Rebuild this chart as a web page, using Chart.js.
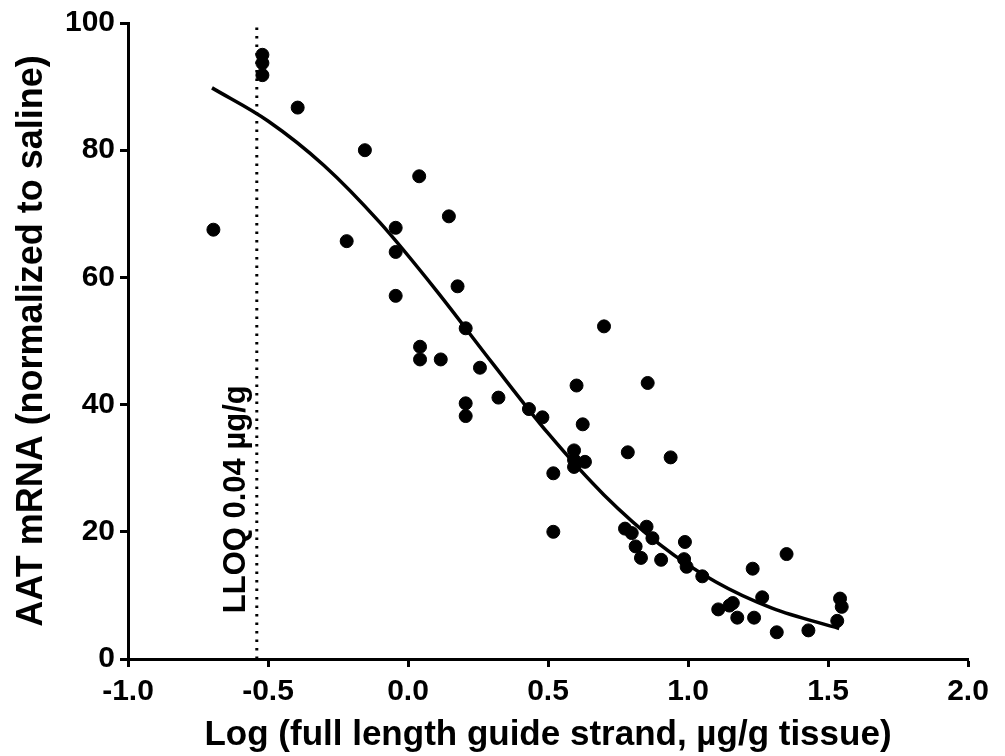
<!DOCTYPE html>
<html>
<head>
<meta charset="utf-8">
<script src="https://cdn.jsdelivr.net/npm/chart.js@4"></script>
<style>
  html, body { margin: 0; padding: 0; background: #fff; }
  #wrap { width: 1005px; height: 756px; }
</style>
</head>
<body>
<div id="wrap"><canvas id="chart" width="1005" height="756"></canvas></div>
<script>
// measured points: log dose (x) vs AAT mRNA % of saline (y)
const doseX = [
  -0.695, -0.520, -0.520, -0.520, -0.394, -0.154, -0.219, 0.040, -0.044, -0.044,
  -0.044, 0.146, 0.177, 0.206, 0.043, 0.043, 0.117, 0.257, 0.206, 0.206,
  0.323, 0.432, 0.480, 0.519, 0.519, 0.700, 0.602, 0.624, 0.593, 0.593,
  0.593, 0.632, 0.856, 0.785, 0.938, 0.775, 0.799, 0.852, 0.873, 0.813,
  0.832, 0.904, 0.989, 0.986, 0.995, 1.051, 1.108, 1.148, 1.160, 1.176,
  1.236, 1.231, 1.265, 1.317, 1.352, 1.430, 1.543, 1.549, 1.533
];
const mrnaY = [
  67.5, 95.0, 93.7, 91.8, 86.7, 80.0, 65.7, 75.9, 67.8, 64.0,
  57.1, 69.6, 58.6, 52.0, 49.1, 47.1, 47.1, 45.8, 40.2, 38.2,
  41.1, 39.3, 38.0, 29.2, 20.0, 52.3, 43.0, 36.9, 32.8, 31.3,
  30.2, 31.0, 43.4, 32.5, 31.7, 20.5, 19.8, 20.8, 19.0, 17.7,
  15.9, 15.6, 18.4, 15.7, 14.5, 13.0, 7.8, 8.4, 8.8, 6.5,
  6.5, 14.2, 9.7, 4.2, 16.5, 4.5, 9.5, 8.2, 6.0
];

// fitted curve
const fitX = [-0.70, -0.50, -0.30, -0.10, 0.10, 0.30, 0.50, 0.70, 0.90, 1.10, 1.30, 1.54];
const fitY = [89.8, 84.6, 77.6, 68.6, 58.0, 46.6, 35.5, 25.8, 18.0, 12.1, 8.0, 4.8];

// LLOQ marker
const lloqX = -0.54;
const lloqLabel = 'LLOQ 0.04 µg/g';

const xTicks = [-1.0, -0.5, 0.0, 0.5, 1.0, 1.5, 2.0];
const yTicks = [0, 20, 40, 60, 80, 100];

const FONT = '"Liberation Sans", Arial, Helvetica, sans-serif';

const points = doseX.map((x, i) => ({ x: x, y: mrnaY[i] }));
const curve = fitX.map((x, i) => ({ x: x, y: fitY[i] }));

const lloqText = {
  id: 'lloqText',
  afterDatasetsDraw(chart) {
    const ctx = chart.ctx;
    const px = chart.scales.x.getPixelForValue(lloqX);
    const py = chart.scales.y.getPixelForValue(7.2);
    ctx.save();
    ctx.translate(px - 12, py);
    ctx.rotate(-Math.PI / 2);
    ctx.font = 'bold 31px ' + FONT;
    ctx.fillStyle = '#000';
    ctx.textAlign = 'left';
    ctx.textBaseline = 'alphabetic';
    ctx.fillText(lloqLabel, 0, 0);
    ctx.restore();
  }
};

new Chart(document.getElementById('chart'), {
  type: 'scatter',
  data: {
    datasets: [
      {
        label: 'data',
        data: points,
        backgroundColor: '#000',
        borderColor: '#000',
        pointRadius: 6.5,
        pointHoverRadius: 6.5,
        order: 1
      },
      {
        label: 'fit',
        type: 'line',
        data: curve,
        borderColor: '#000',
        borderWidth: 3.5,
        pointRadius: 0,
        fill: false,
        cubicInterpolationMode: 'monotone',
        order: 2
      },
      {
        label: 'LLOQ',
        type: 'line',
        data: [{ x: lloqX, y: 0 }, { x: lloqX, y: 100 }],
        borderColor: '#000',
        borderWidth: 3,
        borderDash: [2.5, 6],
        borderCapStyle: 'butt',
        pointRadius: 0,
        fill: false,
        order: 3
      }
    ]
  },
  options: {
    responsive: false,
    animation: false,
    events: [],
    layout: { padding: { left: 0, right: 37, top: 19, bottom: 0 } },
    plugins: {
      legend: { display: false },
      tooltip: { enabled: false }
    },
    scales: {
      x: {
        type: 'linear',
        min: -1,
        max: 2,
        afterBuildTicks: (scale) => { scale.ticks = xTicks.map(v => ({ value: v })); },
        afterFit: (scale) => { scale.height = 97; },
        border: { display: true, color: '#000', width: 3 },
        grid: { drawOnChartArea: false, drawTicks: true, tickLength: 8, tickWidth: 3, tickColor: '#000' },
        ticks: {
          color: '#000',
          padding: 7,
          maxRotation: 0,
          autoSkip: false,
          font: { family: FONT, size: 30, weight: 'bold' },
          callback: (v) => Number(v).toFixed(1)
        },
        title: {
          display: true,
          text: 'Log (full length guide strand, µg/g tissue)',
          color: '#000',
          padding: { top: 0, bottom: 0 },
          font: { family: FONT, size: 35, weight: 'bold' }
        }
      },
      y: {
        type: 'linear',
        min: 0,
        max: 100,
        afterBuildTicks: (scale) => { scale.ticks = yTicks.map(v => ({ value: v })); },
        afterFit: (scale) => { scale.width = 128; },
        border: { display: true, color: '#000', width: 3 },
        grid: { drawOnChartArea: false, drawTicks: true, tickLength: 8, tickWidth: 3, tickColor: '#000' },
        ticks: {
          color: '#000',
          padding: 5,
          autoSkip: false,
          font: { family: FONT, size: 30, weight: 'bold' }
        },
        title: {
          display: true,
          text: 'AAT mRNA (normalized to saline)',
          color: '#000',
          padding: { top: 10, bottom: 0 },
          font: { family: FONT, size: 36, weight: 'bold' }
        }
      }
    }
  },
  plugins: [lloqText]
});
</script>
</body>
</html>
